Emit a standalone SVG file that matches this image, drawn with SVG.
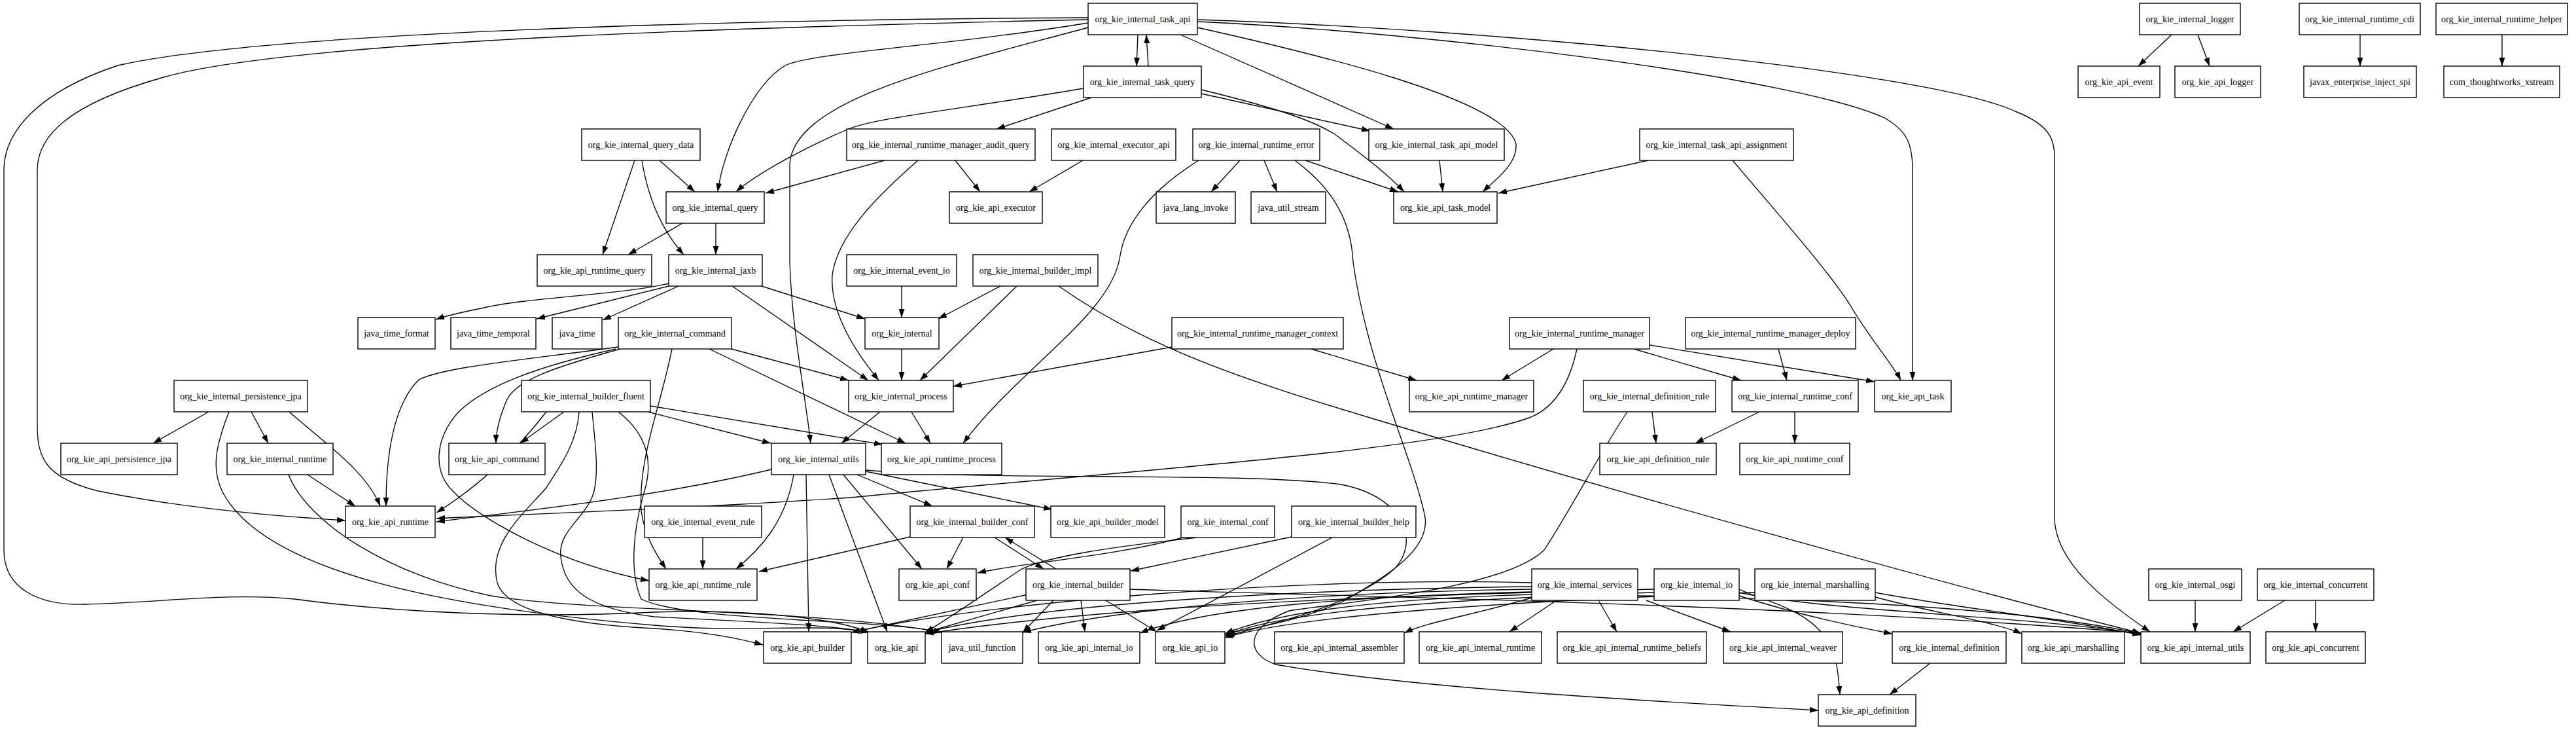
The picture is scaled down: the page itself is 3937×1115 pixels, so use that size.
<svg xmlns="http://www.w3.org/2000/svg" width="3937" height="1115" viewBox="0 0 3937 1115">
<style>
.n rect{fill:#fff;stroke:#000;stroke-width:1.4}
.n text{font-family:"Liberation Serif","Times New Roman",serif;font-size:14px;text-anchor:middle;fill:#000}
.e path{fill:none;stroke:#000;stroke-width:1.35;marker-end:url(#a)}
</style>
<defs>
<marker id="a" markerWidth="14" markerHeight="10" refX="13" refY="5" orient="auto" markerUnits="userSpaceOnUse"><path d="M0,0.5 L13,5 L0,9.5 z" fill="#000"/></marker>
</defs>
<rect width="3937" height="1115" fill="#fff"/>
<g id="edges" class="e">
<path d="M1739,53 L1737,101"/>
<path d="M1755,101 L1752,53"/>
<path d="M1663,35 C1450,70 1240,80 1200,100 C1150,130 1105,230 1097,293"/>
<path d="M1663,42 C1450,100 1215,150 1207,250 L1207,400 C1210,500 1230,600 1239,677"/>
<path d="M1663,30 C1200,40 450,60 250,118 C100,160 57,210 57,260 L57,650 C57,700 70,730 150,750 C300,780 450,790 528,795"/>
<path d="M1663,27 C1100,30 400,50 180,100 C60,140 6,200 6,260 L6,840 C6,900 60,925 130,923 C250,920 350,905 450,915 C600,935 800,945 1000,935 C1150,930 1280,945 1328,966"/>
<path d="M1804,53 L2130,197"/>
<path d="M1830,42 C2000,80 2300,150 2317,220 C2320,250 2285,275 2266,293"/>
<path d="M1830,33 C2200,50 2750,120 2880,180 C2915,200 2923,220 2923,260 L2923,581"/>
<path d="M1830,30 C2300,45 2950,110 3080,170 C3130,190 3140,210 3140,240 L3140,790 C3140,860 3220,920 3286,965"/>
<path d="M1656,135 C1450,170 1330,180 1290,200 C1220,230 1150,270 1125,293"/>
<path d="M1668,149 L1523,197"/>
<path d="M1836,143 L2094,200"/>
<path d="M1836,137 C1930,160 2000,180 2040,205 C2080,235 2120,265 2146,293"/>
<path d="M1008,245 L1062,293"/>
<path d="M970,245 L921,389"/>
<path d="M981,245 C990,300 1010,350 1045,389"/>
<path d="M1352,245 L1170,295"/>
<path d="M1460,245 L1498,293"/>
<path d="M1403,245 C1340,300 1280,360 1272,420 C1268,480 1310,540 1343,581"/>
<path d="M1655,245 L1573,293"/>
<path d="M1895,245 L1851,293"/>
<path d="M1932,245 L1952,293"/>
<path d="M1995,245 L2137,293"/>
<path d="M1832,245 C1760,290 1720,340 1712,390 C1700,480 1560,560 1472,677"/>
<path d="M1979,245 C2040,290 2065,340 2068,400 C2090,560 2160,700 2178,790 C2185,840 2120,880 2050,920 C1980,950 1910,960 1874,968"/>
<path d="M2200,245 L2205,293"/>
<path d="M2519,245 L2290,295"/>
<path d="M2648,245 C2720,330 2800,420 2830,470 C2860,520 2895,560 2905,581"/>
<path d="M3319,53 L3268,101"/>
<path d="M3359,53 L3377,101"/>
<path d="M3607,53 L3607,101"/>
<path d="M3824,53 L3824,101"/>
<path d="M1043,341 L960,389"/>
<path d="M1094,341 L1094,389"/>
<path d="M1022,433 C950,450 800,455 740,470 C700,478 680,483 666,488"/>
<path d="M1022,437 L820,487"/>
<path d="M1037,437 L921,489"/>
<path d="M1164,437 L1322,487"/>
<path d="M1119,437 L1327,581"/>
<path d="M1378,437 L1378,485"/>
<path d="M1529,437 L1434,487"/>
<path d="M1554,437 L1406,581"/>
<path d="M1618,437 C1750,530 1900,580 2100,640 C2500,760 3000,900 3272,967"/>
<path d="M1118,533 L1297,581"/>
<path d="M1084,533 L1384,677"/>
<path d="M948,533 C850,560 790,580 775,610 C762,640 758,660 758,677"/>
<path d="M945,530 C800,550 680,560 640,580 C600,620 590,700 590,773"/>
<path d="M941,533 C820,560 740,590 700,630 C665,670 660,720 694,752 C730,790 850,860 992,887"/>
<path d="M1027,533 C1010,620 975,700 980,780 C985,820 1005,850 1018,869"/>
<path d="M1378,533 L1378,581"/>
<path d="M1791,530 L1457,590"/>
<path d="M2004,533 L2165,581"/>
<path d="M2374,533 L2295,581"/>
<path d="M2497,533 L2661,581"/>
<path d="M2521,527 L2865,583"/>
<path d="M2410,533 C2400,580 2380,620 2340,637 C2200,690 1700,720 1300,760 C1000,780 800,785 667,792"/>
<path d="M2718,533 L2731,581"/>
<path d="M2525,629 L2531,677"/>
<path d="M2487,629 C2440,700 2400,780 2360,840 C2300,900 2050,920 1970,933 C1900,960 1905,1000 1950,1015 C2150,1050 2500,1070 2779,1085"/>
<path d="M2689,629 L2591,677"/>
<path d="M2743,629 L2743,677"/>
<path d="M1345,629 L1286,677"/>
<path d="M1393,629 L1422,677"/>
<path d="M319,629 L234,677"/>
<path d="M384,629 L410,677"/>
<path d="M442,629 C500,680 560,720 581,773"/>
<path d="M350,629 C330,680 320,720 345,760 C420,880 700,930 1000,955 C1150,968 1250,950 1328,966"/>
<path d="M441,725 C470,800 600,880 750,910 C900,935 1250,930 1440,966"/>
<path d="M470,725 L543,773"/>
<path d="M862,629 L795,677"/>
<path d="M990,629 L1178,677"/>
<path d="M994,620 L1349,679"/>
<path d="M835,629 C780,700 720,750 667,783"/>
<path d="M885,629 C882,680 850,720 835,745 C800,785 745,830 760,890 C775,940 900,955 1000,960 C1080,965 1130,975 1166,985"/>
<path d="M905,629 C910,680 915,720 908,750 C898,790 852,810 857,850 C862,900 900,930 1000,942 C1150,950 1280,955 1328,966"/>
<path d="M945,629 C985,660 1000,700 985,750 C970,800 960,870 980,915 C1050,950 1350,945 1440,966"/>
<path d="M1179,717 C1000,760 800,780 667,797"/>
<path d="M1213,725 C1200,800 1160,840 1125,869"/>
<path d="M1232,725 L1236,965"/>
<path d="M1267,725 L1356,965"/>
<path d="M1289,725 L1409,869"/>
<path d="M1310,725 L1425,773"/>
<path d="M1323,720 L1608,778"/>
<path d="M1323,718 C1500,735 1900,720 2050,740 C2150,760 2170,830 2130,870 C2060,930 1930,955 1874,972"/>
<path d="M1074,821 L1074,869"/>
<path d="M1391,820 L1160,873"/>
<path d="M1472,821 L1447,869"/>
<path d="M1520,821 L1595,869"/>
<path d="M1614,869 L1536,821"/>
<path d="M1808,821 C1700,850 1560,860 1494,875"/>
<path d="M1830,821 C1700,835 1600,850 1560,870 C1500,910 1450,945 1414,966"/>
<path d="M1974,820 L1728,872"/>
<path d="M2036,821 L1768,963"/>
<path d="M1571,908 L1301,966"/>
<path d="M1585,917 L1414,966"/>
<path d="M1610,917 L1563,966"/>
<path d="M1652,917 L1658,965"/>
<path d="M1690,917 L1768,965"/>
<path d="M1727,900 C2000,910 2700,920 3272,967"/>
<path d="M2341,913 C2250,940 2180,950 2146,967"/>
<path d="M2379,917 L2307,965"/>
<path d="M2443,917 L2471,965"/>
<path d="M2516,917 L2645,965"/>
<path d="M2341,908 C2100,915 1950,935 1872,968"/>
<path d="M2341,904 C2100,910 1850,925 1742,967"/>
<path d="M2341,900 C2000,905 1700,930 1563,966"/>
<path d="M2341,896 C2000,900 1600,920 1414,966"/>
<path d="M2341,890 C2000,880 1500,920 1301,966"/>
<path d="M2503,910 C2800,915 3100,930 3272,968"/>
<path d="M2528,905 C2200,915 1950,935 1872,971"/>
<path d="M2528,900 C2100,910 1700,925 1414,968"/>
<path d="M2658,905 C2800,935 3100,940 3272,969"/>
<path d="M2658,910 C2750,940 2850,960 2892,968"/>
<path d="M2658,900 C2700,920 2770,930 2800,990 C2810,1020 2810,1040 2812,1061"/>
<path d="M2682,905 C2400,915 2000,935 1872,974"/>
<path d="M2866,912 C2950,935 3050,950 3090,968"/>
<path d="M2866,905 C3000,930 3150,945 3272,970"/>
<path d="M2950,1013 L2888,1061"/>
<path d="M3355,917 L3355,965"/>
<path d="M3492,917 L3413,965"/>
<path d="M3539,917 L3539,965"/>
</g>
<g id="task_api" class="n"><rect x="1663" y="5" width="167" height="48"/><text x="1746.5" y="34">org_kie_internal_task_api</text></g>
<g id="logger" class="n"><rect x="3270" y="5" width="154" height="48"/><text x="3347" y="34">org_kie_internal_logger</text></g>
<g id="runtime_cdi" class="n"><rect x="3514" y="5" width="185" height="48"/><text x="3606.5" y="34">org_kie_internal_runtime_cdi</text></g>
<g id="runtime_helper" class="n"><rect x="3723" y="5" width="201" height="48"/><text x="3823.5" y="34">org_kie_internal_runtime_helper</text></g>
<g id="task_query" class="n"><rect x="1656" y="101" width="180" height="48"/><text x="1746" y="130">org_kie_internal_task_query</text></g>
<g id="api_event" class="n"><rect x="3176" y="101" width="125" height="48"/><text x="3238.5" y="130">org_kie_api_event</text></g>
<g id="api_logger" class="n"><rect x="3324" y="101" width="131" height="48"/><text x="3389.5" y="130">org_kie_api_logger</text></g>
<g id="javax_enterprise_inject_spi" class="n"><rect x="3521" y="101" width="172" height="48"/><text x="3607" y="130">javax_enterprise_inject_spi</text></g>
<g id="com_thoughtworks_xstream" class="n"><rect x="3735" y="101" width="177" height="48"/><text x="3823.5" y="130">com_thoughtworks_xstream</text></g>
<g id="query_data" class="n"><rect x="889" y="197" width="181" height="48"/><text x="979.5" y="226">org_kie_internal_query_data</text></g>
<g id="audit_query" class="n"><rect x="1294" y="197" width="288" height="48"/><text x="1438" y="226">org_kie_internal_runtime_manager_audit_query</text></g>
<g id="executor_api" class="n"><rect x="1607" y="197" width="190" height="48"/><text x="1702" y="226">org_kie_internal_executor_api</text></g>
<g id="runtime_error" class="n"><rect x="1823" y="197" width="194" height="48"/><text x="1920" y="226">org_kie_internal_runtime_error</text></g>
<g id="task_api_model" class="n"><rect x="2092" y="197" width="207" height="48"/><text x="2195.5" y="226">org_kie_internal_task_api_model</text></g>
<g id="task_api_assignment" class="n"><rect x="2506" y="197" width="235" height="48"/><text x="2623.5" y="226">org_kie_internal_task_api_assignment</text></g>
<g id="internal_query" class="n"><rect x="1018" y="293" width="150" height="48"/><text x="1093" y="322">org_kie_internal_query</text></g>
<g id="api_executor" class="n"><rect x="1451" y="293" width="142" height="48"/><text x="1522" y="322">org_kie_api_executor</text></g>
<g id="java_lang_invoke" class="n"><rect x="1767" y="293" width="121" height="48"/><text x="1827.5" y="322">java_lang_invoke</text></g>
<g id="java_util_stream" class="n"><rect x="1912" y="293" width="114" height="48"/><text x="1969" y="322">java_util_stream</text></g>
<g id="api_task_model" class="n"><rect x="2130" y="293" width="158" height="48"/><text x="2209" y="322">org_kie_api_task_model</text></g>
<g id="api_runtime_query" class="n"><rect x="821" y="389" width="175" height="48"/><text x="908.5" y="418">org_kie_api_runtime_query</text></g>
<g id="internal_jaxb" class="n"><rect x="1022" y="389" width="143" height="48"/><text x="1093.5" y="418">org_kie_internal_jaxb</text></g>
<g id="event_io" class="n"><rect x="1294" y="389" width="168" height="48"/><text x="1378" y="418">org_kie_internal_event_io</text></g>
<g id="builder_impl" class="n"><rect x="1487" y="389" width="191" height="48"/><text x="1582.5" y="418">org_kie_internal_builder_impl</text></g>
<g id="java_time_format" class="n"><rect x="547" y="485" width="118" height="48"/><text x="606" y="514">java_time_format</text></g>
<g id="java_time_temporal" class="n"><rect x="689" y="485" width="130" height="48"/><text x="754" y="514">java_time_temporal</text></g>
<g id="java_time" class="n"><rect x="844" y="485" width="76" height="48"/><text x="882" y="514">java_time</text></g>
<g id="internal_command" class="n"><rect x="945" y="485" width="173" height="48"/><text x="1031.5" y="514">org_kie_internal_command</text></g>
<g id="internal" class="n"><rect x="1322" y="485" width="113" height="48"/><text x="1378.5" y="514">org_kie_internal</text></g>
<g id="runtime_manager_context" class="n"><rect x="1791" y="485" width="262" height="48"/><text x="1922" y="514">org_kie_internal_runtime_manager_context</text></g>
<g id="runtime_manager" class="n"><rect x="2307" y="485" width="214" height="48"/><text x="2414" y="514">org_kie_internal_runtime_manager</text></g>
<g id="runtime_manager_deploy" class="n"><rect x="2576" y="485" width="260" height="48"/><text x="2706" y="514">org_kie_internal_runtime_manager_deploy</text></g>
<g id="persistence_jpa" class="n"><rect x="266" y="581" width="204" height="48"/><text x="368" y="610">org_kie_internal_persistence_jpa</text></g>
<g id="builder_fluent" class="n"><rect x="797" y="581" width="197" height="48"/><text x="895.5" y="610">org_kie_internal_builder_fluent</text></g>
<g id="internal_process" class="n"><rect x="1297" y="581" width="160" height="48"/><text x="1377" y="610">org_kie_internal_process</text></g>
<g id="api_runtime_manager" class="n"><rect x="2154" y="581" width="190" height="48"/><text x="2249" y="610">org_kie_api_runtime_manager</text></g>
<g id="definition_rule" class="n"><rect x="2420" y="581" width="202" height="48"/><text x="2521" y="610">org_kie_internal_definition_rule</text></g>
<g id="runtime_conf" class="n"><rect x="2647" y="581" width="193" height="48"/><text x="2743.5" y="610">org_kie_internal_runtime_conf</text></g>
<g id="api_task" class="n"><rect x="2865" y="581" width="117" height="48"/><text x="2923.5" y="610">org_kie_api_task</text></g>
<g id="api_persistence_jpa" class="n"><rect x="93" y="677" width="178" height="48"/><text x="182" y="706">org_kie_api_persistence_jpa</text></g>
<g id="internal_runtime" class="n"><rect x="347" y="677" width="162" height="48"/><text x="428" y="706">org_kie_internal_runtime</text></g>
<g id="api_command" class="n"><rect x="686" y="677" width="147" height="48"/><text x="759.5" y="706">org_kie_api_command</text></g>
<g id="internal_utils" class="n"><rect x="1179" y="677" width="144" height="48"/><text x="1251" y="706">org_kie_internal_utils</text></g>
<g id="api_runtime_process" class="n"><rect x="1347" y="677" width="184" height="48"/><text x="1439" y="706">org_kie_api_runtime_process</text></g>
<g id="api_definition_rule" class="n"><rect x="2445" y="677" width="178" height="48"/><text x="2534" y="706">org_kie_api_definition_rule</text></g>
<g id="api_runtime_conf" class="n"><rect x="2659" y="677" width="168" height="48"/><text x="2743" y="706">org_kie_api_runtime_conf</text></g>
<g id="api_runtime" class="n"><rect x="528" y="773" width="137" height="48"/><text x="596.5" y="802">org_kie_api_runtime</text></g>
<g id="event_rule" class="n"><rect x="985" y="773" width="179" height="48"/><text x="1074.5" y="802">org_kie_internal_event_rule</text></g>
<g id="builder_conf" class="n"><rect x="1391" y="773" width="190" height="48"/><text x="1486" y="802">org_kie_internal_builder_conf</text></g>
<g id="api_builder_model" class="n"><rect x="1606" y="773" width="174" height="48"/><text x="1693" y="802">org_kie_api_builder_model</text></g>
<g id="internal_conf" class="n"><rect x="1805" y="773" width="143" height="48"/><text x="1876.5" y="802">org_kie_internal_conf</text></g>
<g id="builder_help" class="n"><rect x="1974" y="773" width="190" height="48"/><text x="2069" y="802">org_kie_internal_builder_help</text></g>
<g id="api_runtime_rule" class="n"><rect x="992" y="869" width="165" height="48"/><text x="1074.5" y="898">org_kie_api_runtime_rule</text></g>
<g id="api_conf" class="n"><rect x="1374" y="869" width="118" height="48"/><text x="1433" y="898">org_kie_api_conf</text></g>
<g id="internal_builder" class="n"><rect x="1568" y="869" width="159" height="48"/><text x="1647.5" y="898">org_kie_internal_builder</text></g>
<g id="internal_services" class="n"><rect x="2341" y="869" width="162" height="48"/><text x="2422" y="898">org_kie_internal_services</text></g>
<g id="internal_io" class="n"><rect x="2528" y="869" width="130" height="48"/><text x="2593" y="898">org_kie_internal_io</text></g>
<g id="internal_marshalling" class="n"><rect x="2682" y="869" width="184" height="48"/><text x="2774" y="898">org_kie_internal_marshalling</text></g>
<g id="internal_osgi" class="n"><rect x="3284" y="869" width="142" height="48"/><text x="3355" y="898">org_kie_internal_osgi</text></g>
<g id="internal_concurrent" class="n"><rect x="3450" y="869" width="178" height="48"/><text x="3539" y="898">org_kie_internal_concurrent</text></g>
<g id="api_builder" class="n"><rect x="1167" y="965" width="134" height="48"/><text x="1234" y="994">org_kie_api_builder</text></g>
<g id="api" class="n"><rect x="1326" y="965" width="88" height="48"/><text x="1370" y="994">org_kie_api</text></g>
<g id="java_util_function" class="n"><rect x="1439" y="965" width="124" height="48"/><text x="1501" y="994">java_util_function</text></g>
<g id="api_internal_io" class="n"><rect x="1587" y="965" width="155" height="48"/><text x="1664.5" y="994">org_kie_api_internal_io</text></g>
<g id="api_io" class="n"><rect x="1766" y="965" width="106" height="48"/><text x="1819" y="994">org_kie_api_io</text></g>
<g id="api_internal_assembler" class="n"><rect x="1948" y="965" width="198" height="48"/><text x="2047" y="994">org_kie_api_internal_assembler</text></g>
<g id="api_internal_runtime" class="n"><rect x="2169" y="965" width="187" height="48"/><text x="2262.5" y="994">org_kie_api_internal_runtime</text></g>
<g id="api_internal_runtime_beliefs" class="n"><rect x="2380" y="965" width="228" height="48"/><text x="2494" y="994">org_kie_api_internal_runtime_beliefs</text></g>
<g id="api_internal_weaver" class="n"><rect x="2634" y="965" width="182" height="48"/><text x="2725" y="994">org_kie_api_internal_weaver</text></g>
<g id="internal_definition" class="n"><rect x="2892" y="965" width="174" height="48"/><text x="2979" y="994">org_kie_internal_definition</text></g>
<g id="api_marshalling" class="n"><rect x="3090" y="965" width="157" height="48"/><text x="3168.5" y="994">org_kie_api_marshalling</text></g>
<g id="api_internal_utils" class="n"><rect x="3272" y="965" width="167" height="48"/><text x="3355.5" y="994">org_kie_api_internal_utils</text></g>
<g id="api_concurrent" class="n"><rect x="3463" y="965" width="152" height="48"/><text x="3539" y="994">org_kie_api_concurrent</text></g>
<g id="api_definition" class="n"><rect x="2779" y="1061" width="149" height="48"/><text x="2853.5" y="1090">org_kie_api_definition</text></g>
</svg>
